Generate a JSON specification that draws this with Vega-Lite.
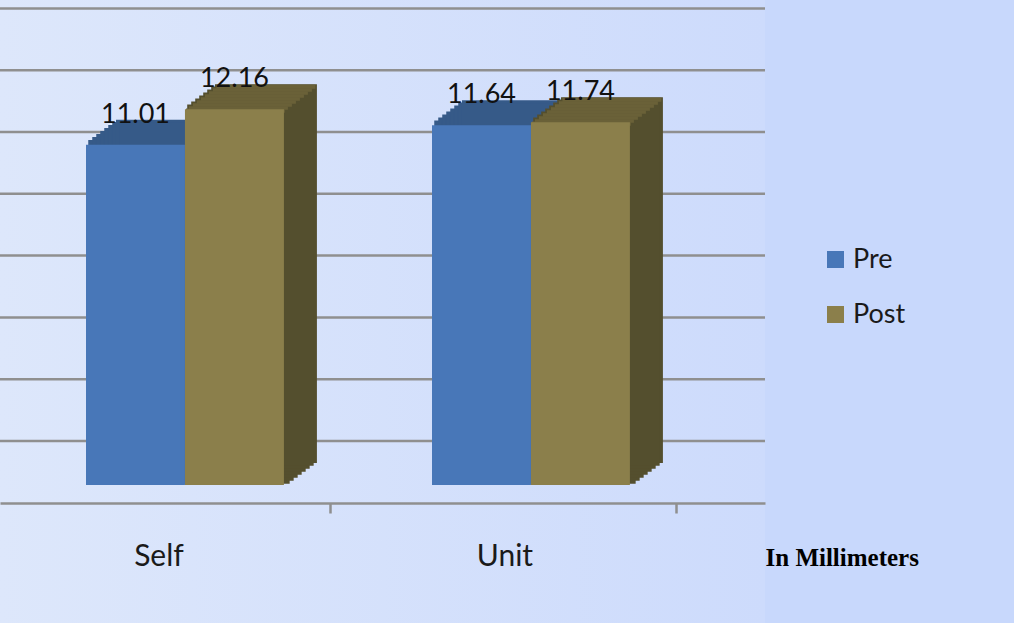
{
  "$schema": "https://vega.github.io/schema/vega-lite/v6.json",
  "width": 765,
  "height": 623,
  "autosize": "none",
  "padding": {"left": 0, "top": 0, "right": 249, "bottom": 0},
  "background": "#c8d8fc",
  "config": {
    "view": {"stroke": null, "fill": {"gradient": "linear", "x1": 0, "y1": 0, "x2": 1, "y2": 0, "stops": [{"offset": 0, "color": "#dde7fb"}, {"offset": 1, "color": "#cddbfc"}]}},
    "font": "Lato"
  },
  "datasets": {
    "bars": [
      {"group": "Self", "series": "Pre", "value": 11.01},
      {"group": "Self", "series": "Post", "value": 12.16},
      {"group": "Unit", "series": "Pre", "value": 11.64},
      {"group": "Unit", "series": "Post", "value": 11.74}
    ],
    "grid": [{"v": 0}, {"v": 2}, {"v": 4}, {"v": 6}, {"v": 8}, {"v": 10}, {"v": 12}, {"v": 14}]
  },
  "layer": [
    {
      "data": {"name": "grid"},
      "mark": {"type": "rule", "color": "#8f8f8f", "strokeWidth": 2.5, "yOffset": -44},
      "encoding": {
        "y": {"field": "v", "type": "quantitative", "scale": {"domain": [-4.466, 15.696], "nice": false, "zero": false}, "axis": null}
      }
    },
    {
      "data": {"name": "bars"},
      "transform": [{"filter": "datum.series === 'Pre'"}],
      "encoding": {
        "x": {
          "field": "group", "type": "nominal", "sort": ["Self", "Unit"], "bandPosition": 0,
          "scale": {"paddingInner": 0.428, "paddingOuter": 0.3195, "align": 0.389},
          "axis": {
            "labelAngle": 0, "labelFontSize": 30, "labelColor": "#1a1a1a", "labelFont": "Lato",
            "ticks": true, "tickSize": 10, "tickWidth": 2.5, "tickColor": "#8f8f8f", "bandPosition": 1.237,
            "domainColor": "#8f8f8f", "domainWidth": 2.5,
            "labelPadding": 52, "labelBaseline": "alphabetic", "labelOffset": -26,
            "offset": -120,
            "title": "In Millimeters", "titleFont": "Liberation Serif", "titleFontWeight": "bold", "titleFontSize": 25,
            "titleColor": "#000000", "titleX": 765, "titleY": 62, "titleAlign": "left", "titleBaseline": "alphabetic", "titleAnchor": "start"
          }
        },
        "x2": {"field": "group", "bandPosition": 0.5},
        "y": {"field": "value", "type": "quantitative", "scale": {"domain": [-4.466, 15.696], "nice": false, "zero": false}, "axis": null},
        "y2": {"datum": 0}
      },
      "layer": [
        {"mark": {"type": "bar", "xOffset": 4, "x2Offset": 4, "yOffset": -3, "y2Offset": -3, "fill": "#365a88", "stroke": "#365a88", "strokeWidth": 3.5}},
        {"mark": {"type": "bar", "xOffset": 8, "x2Offset": 8, "yOffset": -6, "y2Offset": -6, "fill": "#365a88", "stroke": "#365a88", "strokeWidth": 3.5}},
        {"mark": {"type": "bar", "xOffset": 12, "x2Offset": 12, "yOffset": -9, "y2Offset": -9, "fill": "#365a88", "stroke": "#365a88", "strokeWidth": 3.5}},
        {"mark": {"type": "bar", "xOffset": 16, "x2Offset": 16, "yOffset": -12, "y2Offset": -12, "fill": "#365a88", "stroke": "#365a88", "strokeWidth": 3.5}},
        {"mark": {"type": "bar", "xOffset": 20, "x2Offset": 20, "yOffset": -15, "y2Offset": -15, "fill": "#365a88", "stroke": "#365a88", "strokeWidth": 3.5}},
        {"mark": {"type": "bar", "xOffset": 24, "x2Offset": 24, "yOffset": -18, "y2Offset": -18, "fill": "#365a88", "stroke": "#365a88", "strokeWidth": 3.5}},
        {"mark": {"type": "bar", "xOffset": 28, "x2Offset": 28, "yOffset": -21, "y2Offset": -21, "fill": "#365a88", "stroke": "#365a88", "strokeWidth": 3.5}},
        {"mark": {"type": "bar", "xOffset": 31.5, "x2Offset": 31.5, "yOffset": -23.5, "y2Offset": -23.5, "fill": "#365a88", "stroke": "#365a88", "strokeWidth": 3}},
        {
          "mark": {"type": "bar"},
          "encoding": {
            "color": {
              "field": "series", "type": "nominal",
              "scale": {"domain": ["Pre", "Post"], "range": ["#4877b8", "#8b7f4b"]},
              "legend": {
                "title": null, "orient": "none", "legendX": 822, "legendY": 246,
                "symbolType": "square", "symbolSize": 289, "symbolStrokeWidth": 0,
                "labelFontSize": 27, "labelFont": "Lato", "labelColor": "#1a1a1a",
                "labelOffset": 4, "rowPadding": 27
              }
            }
          }
        }
      ]
    },
    {
      "data": {"name": "bars"},
      "transform": [{"filter": "datum.series === 'Post'"}],
      "encoding": {
        "x": {"field": "group", "type": "nominal", "sort": ["Self", "Unit"], "bandPosition": 0.5},
        "x2": {"field": "group", "bandPosition": 1},
        "y": {"field": "value", "type": "quantitative", "scale": {"domain": [-4.466, 15.696], "nice": false, "zero": false}, "axis": null}
      },
      "layer": [
        {
          "encoding": {"y2": {"datum": 0}},
          "layer": [
            {"mark": {"type": "bar", "xOffset": 4, "x2Offset": 4, "yOffset": -3, "y2Offset": -3, "fill": "#544f2e", "stroke": "#544f2e", "strokeWidth": 3.5}},
            {"mark": {"type": "bar", "xOffset": 8, "x2Offset": 8, "yOffset": -6, "y2Offset": -6, "fill": "#544f2e", "stroke": "#544f2e", "strokeWidth": 3.5}},
            {"mark": {"type": "bar", "xOffset": 12, "x2Offset": 12, "yOffset": -9, "y2Offset": -9, "fill": "#544f2e", "stroke": "#544f2e", "strokeWidth": 3.5}},
            {"mark": {"type": "bar", "xOffset": 16, "x2Offset": 16, "yOffset": -12, "y2Offset": -12, "fill": "#544f2e", "stroke": "#544f2e", "strokeWidth": 3.5}},
            {"mark": {"type": "bar", "xOffset": 20, "x2Offset": 20, "yOffset": -15, "y2Offset": -15, "fill": "#544f2e", "stroke": "#544f2e", "strokeWidth": 3.5}},
            {"mark": {"type": "bar", "xOffset": 24, "x2Offset": 24, "yOffset": -18, "y2Offset": -18, "fill": "#544f2e", "stroke": "#544f2e", "strokeWidth": 3.5}},
            {"mark": {"type": "bar", "xOffset": 28, "x2Offset": 28, "yOffset": -21, "y2Offset": -21, "fill": "#544f2e", "stroke": "#544f2e", "strokeWidth": 3.5}},
            {"mark": {"type": "bar", "xOffset": 31.5, "x2Offset": 31.5, "yOffset": -23.5, "y2Offset": -23.5, "fill": "#544f2e", "stroke": "#544f2e", "strokeWidth": 3}}
          ]
        },
        {
          "encoding": {"y2": {"field": "value"}},
          "layer": [
            {"mark": {"type": "bar", "xOffset": 1, "x2Offset": 1, "yOffset": -0.75, "y2Offset": 3.5, "fill": "#6a6138"}},
            {"mark": {"type": "bar", "xOffset": 4, "x2Offset": 4, "yOffset": -3, "y2Offset": 0.5, "fill": "#6a6138"}},
            {"mark": {"type": "bar", "xOffset": 8, "x2Offset": 8, "yOffset": -6, "y2Offset": -2.5, "fill": "#6a6138"}},
            {"mark": {"type": "bar", "xOffset": 12, "x2Offset": 12, "yOffset": -9, "y2Offset": -5.5, "fill": "#6a6138"}},
            {"mark": {"type": "bar", "xOffset": 16, "x2Offset": 16, "yOffset": -12, "y2Offset": -8.5, "fill": "#6a6138"}},
            {"mark": {"type": "bar", "xOffset": 20, "x2Offset": 20, "yOffset": -15, "y2Offset": -11.5, "fill": "#6a6138"}},
            {"mark": {"type": "bar", "xOffset": 24, "x2Offset": 24, "yOffset": -18, "y2Offset": -14.5, "fill": "#6a6138"}},
            {"mark": {"type": "bar", "xOffset": 28, "x2Offset": 28, "yOffset": -21, "y2Offset": -17.5, "fill": "#6a6138"}},
            {"mark": {"type": "bar", "xOffset": 31.5, "x2Offset": 31.5, "yOffset": -24.5, "y2Offset": -20.5, "fill": "#6a6138"}}
          ]
        },
        {
          "mark": {"type": "bar"},
          "encoding": {"y2": {"datum": 0}, "color": {"field": "series", "type": "nominal"}}
        }
      ]
    },
    {
      "data": {"name": "bars"},
      "transform": [{"filter": "datum.series === 'Pre'"}],
      "mark": {"type": "text", "baseline": "alphabetic", "dy": -22, "fontSize": 27, "color": "#111111"},
      "encoding": {
        "x": {"field": "group", "type": "nominal", "sort": ["Self", "Unit"], "bandPosition": 0.25},
        "y": {"field": "value", "type": "quantitative", "scale": {"domain": [-4.466, 15.696], "nice": false, "zero": false}},
        "text": {"field": "value", "type": "quantitative", "format": ".2f"}
      }
    },
    {
      "data": {"name": "bars"},
      "transform": [{"filter": "datum.series === 'Post'"}],
      "mark": {"type": "text", "baseline": "alphabetic", "dy": -22, "fontSize": 27, "color": "#111111"},
      "encoding": {
        "x": {"field": "group", "type": "nominal", "sort": ["Self", "Unit"], "bandPosition": 0.75},
        "y": {"field": "value", "type": "quantitative", "scale": {"domain": [-4.466, 15.696], "nice": false, "zero": false}},
        "text": {"field": "value", "type": "quantitative", "format": ".2f"}
      }
    }
  ]
}
